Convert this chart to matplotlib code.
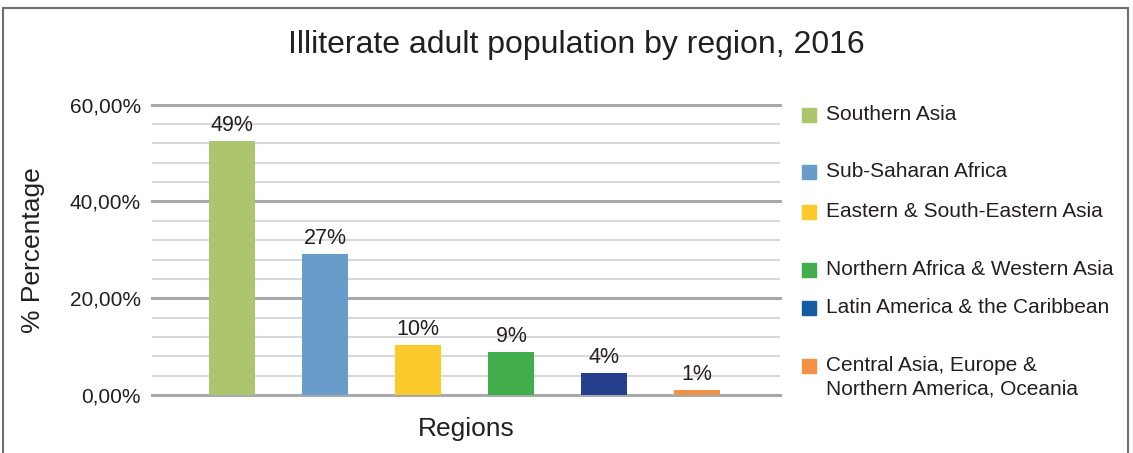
import matplotlib.pyplot as plt
from matplotlib.patches import Rectangle

regions = ["Southern Asia", "Sub-Saharan Africa", "Eastern & South-Eastern Asia",
           "Northern Africa & Western Asia", "Latin America & the Caribbean",
           "Central Asia, Europe &\nNorthern America, Oceania"]
values = [52.5, 29.2, 10.3, 8.9, 4.6, 1.0]
labels = ["49%", "27%", "10%", "9%", "4%", "1%"]
bar_colors = ["#ADC56D", "#699BCB", "#FDCA2B", "#41AE4B", "#253F8C", "#F39244"]
legend_colors = ["#ADC56D", "#699BCB", "#FDCA2B", "#41AE4B", "#145DA0", "#F39244"]
yticks = [0, 20, 40, 60]
minor = [4, 8, 12, 16, 24, 28, 32, 36, 44, 48, 52, 56]

plt.rcParams['font.family'] = ['Liberation Sans', 'DejaVu Sans']
txt = "#231F20"

fig = plt.figure(figsize=(11.33, 4.53), dpi=100)
W, H = 1133, 453
fig.patches.append(Rectangle((3 / W, -0.1), 1125 / W, 1 - 8 / H + 0.1,
                             transform=fig.transFigure, fill=False,
                             edgecolor="#6D6E70", lw=1.5))

ax = fig.add_axes([152 / W, 1 - 395 / H, 628 / W, (395 - 104.7) / H])
x = list(range(len(values)))
ax.set_xlim(-0.86, 5.89)
ax.set_ylim(0, 60)
for m in minor:
    ax.axhline(m, color="#D9D9D9", lw=1.5, zorder=0)
for t in yticks:
    ax.axhline(t, color="#A7A9AC", lw=2.2, zorder=1, clip_on=False)

ax.bar(x, values, width=0.495, color=bar_colors, zorder=2)
for xi, v, l in zip(x, values, labels):
    ax.text(xi, v + 1.0, l, ha="center", va="bottom", fontsize=15.5, color=txt)

for s in ax.spines.values():
    s.set_visible(False)
ax.set_xticks([])
ax.set_yticks(yticks)
ax.set_yticklabels([f"{t},00%" for t in yticks], fontsize=15, color=txt)
ax.tick_params(axis="y", length=0, pad=8)
ax.set_ylabel("% Percentage", fontsize=19, color=txt, labelpad=18)
ax.set_xlabel("Regions", fontsize=19, color=txt, labelpad=16)

fig.text(576 / W, 1 - 45 / H, "Illiterate adult population by region, 2016",
         ha="center", va="center", fontsize=23, color=txt)

# legend
leg_y = [115, 172, 212, 270, 308, 366]
for name, c, yy in zip(regions, legend_colors, leg_y):
    fig.patches.append(Rectangle((802 / W, 1 - (yy + 7) / H), 14 / W, 14 / H,
                                 transform=fig.transFigure, color=c))
    fig.text(826 / W, 1 - (yy - 10) / H, name, ha="left", va="top", fontsize=15,
             color=txt, linespacing=1.3)

fig.savefig("out.png", dpi=100)
